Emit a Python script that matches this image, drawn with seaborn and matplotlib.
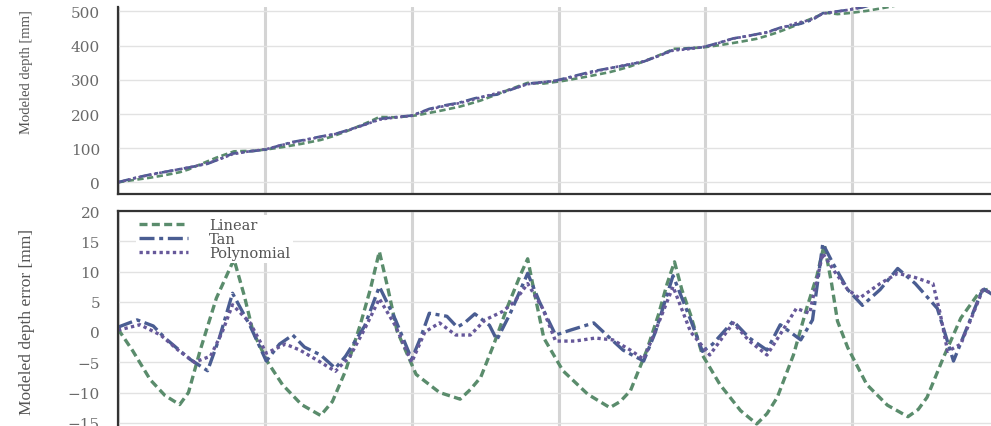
import numpy as np
import pandas as pd
import matplotlib
matplotlib.use("Agg")
import matplotlib.pyplot as plt
import seaborn as sns

# True depth [mm] and modeled depth error [mm] for each calibration model
linear_depth = [0, 10, 22, 32, 42, 48, 56, 67, 79, 86, 92, 102, 112, 125, 138, 146,
                155, 165, 172, 178, 184, 190, 203, 219, 233, 240, 247, 256, 265, 274,
                279, 284, 290, 303, 320, 335, 342, 349, 360, 368, 374, 379, 384, 390,
                398, 410, 424, 435, 442, 449, 460, 469, 476, 481, 486, 490, 497, 510,
                524, 538, 545, 551, 562, 574, 587, 595, 600]
linear_error = [0.5, -3.1, -7.9, -10.5, -12, -10, -3, 5.6, 12, 6, 0, -5, -8.7, -12, -13.8, -11.5,
                -6.4, 1.2, 7.2, 13.3, 7, 0.2, -7, -10, -11.1, -9.5, -7.5, -2, 4, 9.4,
                12.1, 6, -1, -6.4, -10.3, -12.5, -11.5, -9.7, -3.1, 2.8, 8, 11.6, 7, 2.8,
                -3.8, -8.7, -13, -15.2, -13.5, -10.8, -3.8, 3.9, 9.3, 14.5, 8, 1.8, -2.6, -8.7,
                -12.1, -14, -12.8, -10.8, -4.3, 2.3, 6.7, 7.2, 6.5]

tan_depth = [0, 13, 24, 32, 49, 61, 69, 78, 90, 101, 110, 119, 127, 138, 148, 155,
             168, 178, 189, 200, 206, 212, 224, 231, 236, 243, 253, 258, 267, 279,
             287, 298, 308, 324, 335, 344, 358, 366, 378, 390, 398, 405, 419, 430,
             442, 451, 465, 473, 480, 487, 497, 507, 519, 531, 543, 558, 569, 577,
             589, 600]
tan_error = [0.8, 2.0, 1.0, -1, -4.5, -6.4, -1, 6.4, 1, -4.8, -2, -0.5, -2.5, -3.8, -6, -4,
             1, 7.5, 2, -4.5, -1, 3.1, 2.6, 0.8, 1.5, 3, 1.1, -1.3, 3, 9.7,
             5, -0.5, 0.3, 1.5, -1, -3, -4.8, 0, 9.3, 2, -3.2, -2, 1.8, -1,
             -3.0, 1.2, -1.3, 2, 14.6, 11.3, 7, 4.4, 7, 10.5, 8, 3.9, -4.8, 0,
             7.2, 5.5]

poly_depth = [0, 15, 29, 41, 52, 63, 71, 78, 90, 101, 114, 124, 138, 148, 158, 168,
              178, 189, 200, 209, 219, 230, 240, 250, 262, 270, 279, 289, 298, 311,
              325, 337, 349, 358, 369, 378, 390, 403, 419, 430, 442, 452, 462, 471,
              480, 488, 497, 505, 519, 531, 543, 555, 560, 565, 574, 589, 600]
poly_error = [0.3, 1.2, -0.5, -3, -5, -4, 0, 4.5, 1.5, -3.5, -2, -3, -5, -6.5, -4, 0.5,
              5.5, 1, -5, 0, 1.5, -0.5, -0.5, 2, 3.4, 5, 8, 4, -1.5, -1.5,
              -1, -1.3, -3, -4.5, 2, 7.5, 0, -3.8, 1.5, -1.5, -3.8, 0, 3.9, 3.1,
              13, 10, 7, 5.6, 8, 9.7, 9, 8, 3, -3.2, -2, 7, 6]

series_names = ["Linear", "Tan", "Polynomial"]
series_colors = ["#5a8c6c", "#4a5d92", "#66589a"]
series_styles = [(0, (2.4, 1.3)), (0, (4.5, 1.4, 1.2, 1.4)), (0, (1.0, 1.0))]

depth_ticks = [0, 100, 200, 300, 400, 500, 600]
model_ticks = [0, 100, 200, 300, 400, 500]
error_ticks = [-20, -15, -10, -5, 0, 5, 10, 15, 20]

sns.set_theme(style="whitegrid")
plt.rcParams["font.family"] = ["DejaVu Serif"]
plt.rcParams["axes.unicode_minus"] = True

W, H = 991, 427
fig = plt.figure(figsize=(W / 100, H / 100), dpi=100)
fig.patch.set_facecolor("white")


def px_box(left, top, right, bottom):
    return [left / W, 1 - bottom / H, (right - left) / W, (bottom - top) / H]


ax_top = fig.add_axes(px_box(118, 8, 999, 195))
ax_bot = fig.add_axes(px_box(118, 212, 999, 454))

data = [(np.array(linear_depth), np.array(linear_error)),
        (np.array(tan_depth), np.array(tan_error)),
        (np.array(poly_depth), np.array(poly_error))]

for (d, e), name, col, ls in zip(data, series_names, series_colors, series_styles):
    sns.lineplot(x=d, y=d + e, ax=ax_top, color=col, linestyle=ls,
                 linewidth=1.9, label=name, legend=False)
    sns.lineplot(x=d, y=e, ax=ax_bot, color=col, linestyle=ls,
                 linewidth=2.4, label=name, legend=False)

for ax in (ax_top, ax_bot):
    ax.set_xlim(0, 600)
    ax.set_xticks(depth_ticks)
    ax.tick_params(axis="x", labelbottom=False, length=0)
    ax.tick_params(axis="y", length=0, pad=13, labelsize=11, labelcolor="#6a6a6a")
    ax.grid(axis="x", color="#d4d4d4", linewidth=2.2)
    ax.grid(axis="y", color="#e2e2e2", linewidth=1.0)
    ax.set_xlabel("")
    for side in ("left", "bottom", "top", "right"):
        ax.spines[side].set_color("#333333")
        ax.spines[side].set_linewidth(1.6)

ax_top.spines["top"].set_visible(False)
ax_top.set_ylim(-33.6, 512.6)
ax_top.set_yticks(model_ticks)
ax_bot.set_ylim(-20, 20)
ax_bot.set_yticks(error_ticks)

ax_top.set_ylabel("Modeled depth [mm]", family="Liberation Serif", fontsize=10.5,
                  color="#555555", va="center", ha="center")
ax_top.yaxis.set_label_coords(-0.1033, 0.658)
ax_bot.set_ylabel("Modeled depth error [mm]", family="Liberation Serif", fontsize=12.5,
                  color="#555555", va="center", ha="center")
ax_bot.yaxis.set_label_coords(-0.1033, 0.545)

leg = ax_bot.legend(loc="upper left", bbox_to_anchor=(0.012, 1.012), fontsize=10.5,
                    handlelength=3.4, handletextpad=1.4, labelspacing=0.0,
                    borderpad=0.2, frameon=True, fancybox=False)
leg.get_frame().set_facecolor("white")
leg.get_frame().set_edgecolor("none")
leg.get_frame().set_alpha(1.0)
for t in leg.get_texts():
    t.set_color("#555555")

fig.savefig("out.png", dpi=100, facecolor="white")
